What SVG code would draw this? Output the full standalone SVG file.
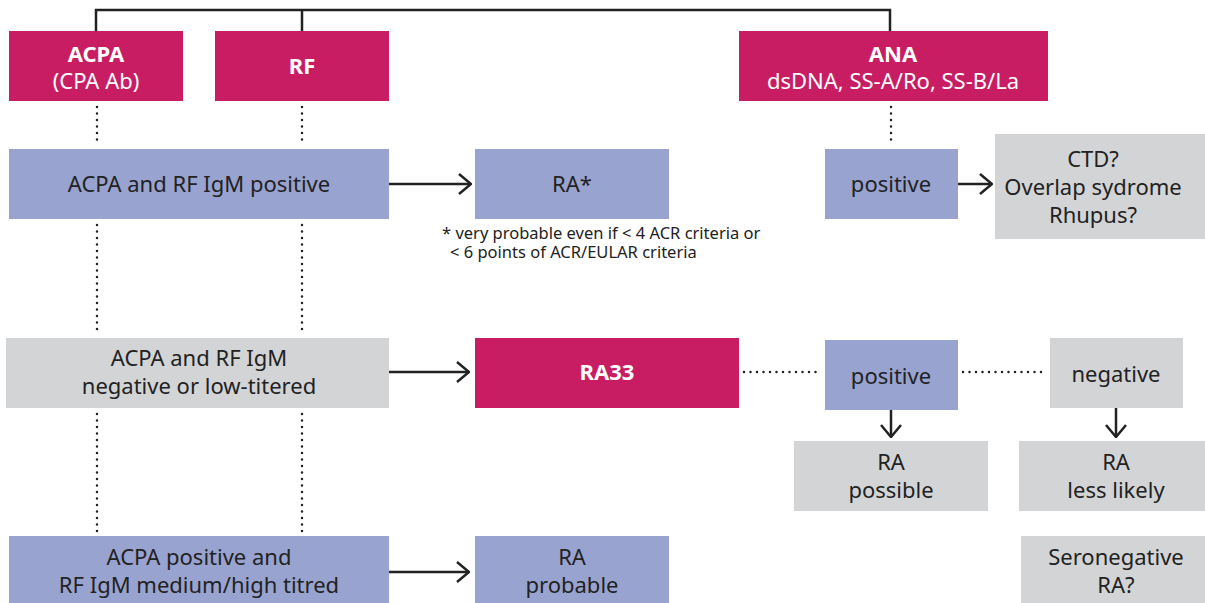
<svg xmlns="http://www.w3.org/2000/svg" width="1205" height="603" viewBox="0 0 1205 603">
<defs>
<style>
.m{fill:#C91D63}.b{fill:#99A3D0}.g{fill:#D3D4D6}
text{font-family:"Noto Sans","Open Sans",sans-serif;font-size:22px;text-anchor:middle;fill:#222}
.w{fill:#fff}.bold{font-weight:bold}
.ln{stroke:#222;stroke-width:2.5;fill:none}
.dot{stroke:#222;stroke-width:2.5;fill:none;stroke-dasharray:0 6.5;stroke-linecap:round}
.fn{font-size:16.5px;text-anchor:start}
</style>
<marker id="ah" viewBox="0 0 14 22" refX="13" refY="11" markerWidth="14" markerHeight="22" markerUnits="userSpaceOnUse" orient="auto">
<path d="M1 1 L13 11 L1 21" fill="none" stroke="#222" stroke-width="2.5"/>
</marker>
</defs>
<g id="connectors">
<path class="ln" d="M96 31 V10 H890 V31 M302 10 V31"/>
<path class="dot" d="M97 107 V146 M302 107 V146 M891 107 V146"/>
<path class="dot" d="M97 225 V335 M302 225 V335"/>
<path class="dot" d="M97 414 V533 M302 414 V533"/>
<path class="dot" d="M744 372 H822 M963 372 H1047"/>
<path class="ln" marker-end="url(#ah)" d="M389 184 H471"/>
<path class="ln" marker-end="url(#ah)" d="M958 184 H992"/>
<path class="ln" marker-end="url(#ah)" d="M389 372 H469"/>
<path class="ln" marker-end="url(#ah)" d="M389 572 H469"/>
<path class="ln" marker-end="url(#ah)" d="M891 410 V437"/>
<path class="ln" marker-end="url(#ah)" d="M1116 408 V437"/>
</g>
<g id="acpa"><rect class="m" x="9" y="31" width="174" height="70"/><text class="w bold" x="96" y="62">ACPA</text><text class="w" x="96" y="89">(CPA Ab)</text></g>
<g id="rf"><rect class="m" x="215" y="31" width="174" height="70"/><text class="w bold" x="302" y="74">RF</text></g>
<g id="ana"><rect class="m" x="739" y="31" width="309" height="70"/><text class="w bold" x="893" y="62">ANA</text><text class="w" x="893" y="89">dsDNA, SS-A/Ro, SS-B/La</text></g>
<g id="pos1"><rect class="b" x="9" y="149" width="380" height="70"/><text x="199" y="192">ACPA and RF IgM positive</text></g>
<g id="ra-star"><rect class="b" x="475" y="149" width="194" height="70"/><text x="572" y="192">RA*</text></g>
<g id="footnote"><text class="fn" x="442" y="239">* very probable even if &lt; 4 ACR criteria or</text><text class="fn" x="450" y="258">&lt; 6 points of ACR/EULAR criteria</text></g>
<g id="ana-pos"><rect class="b" x="825" y="149" width="133" height="70"/><text x="891" y="192">positive</text></g>
<g id="ctd"><rect class="g" x="995" y="134" width="210" height="105"/><text x="1093" y="167">CTD?</text><text x="1093" y="195">Overlap sydrome</text><text x="1093" y="223">Rhupus?</text></g>
<g id="neg1"><rect class="g" x="6" y="338" width="383" height="70"/><text x="199" y="366">ACPA and RF IgM</text><text x="199" y="394">negative or low-titered</text></g>
<g id="ra33"><rect class="m" x="475" y="338" width="264" height="70"/><text class="w bold" x="607" y="380">RA33</text></g>
<g id="ra33-pos"><rect class="b" x="825" y="340" width="133" height="70"/><text x="891" y="384">positive</text></g>
<g id="ra33-neg"><rect class="g" x="1050" y="338" width="133" height="70"/><text x="1116" y="382">negative</text></g>
<g id="ra-possible"><rect class="g" x="794" y="441" width="194" height="70"/><text x="891" y="470">RA</text><text x="891" y="498">possible</text></g>
<g id="ra-less"><rect class="g" x="1019" y="441" width="186" height="70"/><text x="1116" y="470">RA</text><text x="1116" y="498">less likely</text></g>
<g id="pos3"><rect class="b" x="9" y="536" width="380" height="67"/><text x="199" y="565">ACPA positive and</text><text x="199" y="593">RF IgM medium/high titred</text></g>
<g id="ra-probable"><rect class="b" x="475" y="536" width="194" height="67"/><text x="572" y="565">RA</text><text x="572" y="593">probable</text></g>
<g id="seroneg"><rect class="g" x="1021" y="536" width="184" height="67"/><text x="1116" y="565">Seronegative</text><text x="1116" y="593">RA?</text></g>
</svg>
